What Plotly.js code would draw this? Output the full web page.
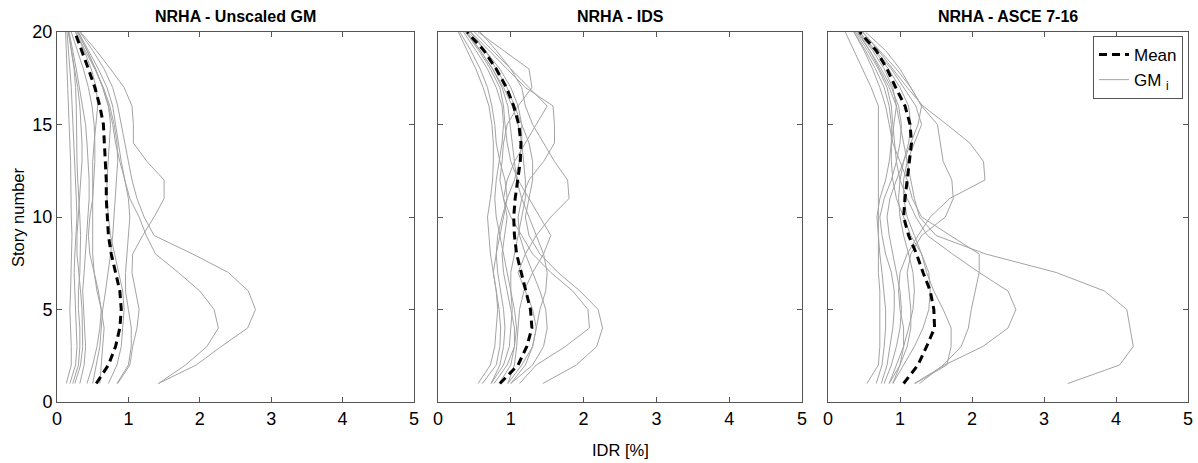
<!DOCTYPE html>
<html>
<head>
<meta charset="utf-8">
<script src="https://cdn.plot.ly/plotly-3.0.1.min.js"></script>
<style>html,body{margin:0;padding:0;background:#fff;}#chart{width:1198px;height:463px;}</style>
</head>
<body>
<div id="chart"></div>
<script>
const stories = [1,2,3,4,5,6,7,8,9,10,11,12,13,14,15,16,17,18,19,20];
const panelTitles = ["NRHA - Unscaled GM", "NRHA - IDS", "NRHA - ASCE 7-16"];
const xTicks = [0,1,2,3,4,5];
const yTicks = [0,5,10,15,20];

const meanUnscaled = [0.55,0.72,0.82,0.88,0.9,0.88,0.82,0.76,0.72,0.7,0.69,0.69,0.68,0.67,0.65,0.6,0.53,0.44,0.35,0.25];
const gmUnscaled = [
  [0.13,0.2,0.2,0.19,0.18,0.19,0.2,0.21,0.21,0.2,0.2,0.2,0.19,0.18,0.17,0.16,0.15,0.14,0.13,0.12],
  [0.18,0.26,0.28,0.27,0.25,0.24,0.24,0.25,0.27,0.28,0.27,0.26,0.25,0.24,0.23,0.22,0.2,0.18,0.16,0.14],
  [0.25,0.33,0.36,0.36,0.35,0.33,0.3,0.28,0.28,0.3,0.32,0.34,0.35,0.35,0.34,0.32,0.29,0.25,0.2,0.16],
  [0.32,0.38,0.4,0.39,0.37,0.36,0.38,0.4,0.42,0.44,0.45,0.45,0.44,0.42,0.4,0.36,0.32,0.27,0.22,0.17],
  [0.42,0.5,0.56,0.6,0.62,0.58,0.52,0.46,0.44,0.46,0.5,0.52,0.53,0.53,0.52,0.49,0.44,0.37,0.29,0.2],
  [0.6,0.62,0.64,0.66,0.62,0.56,0.52,0.5,0.5,0.5,0.5,0.5,0.5,0.52,0.55,0.57,0.55,0.48,0.38,0.26],
  [0.72,0.84,0.9,0.92,0.94,0.92,0.86,0.8,0.75,0.72,0.7,0.7,0.72,0.74,0.75,0.72,0.64,0.54,0.42,0.28],
  [0.84,1.0,1.04,1.04,1.0,0.96,0.96,0.98,1.0,1.02,1.0,0.95,0.88,0.82,0.78,0.72,0.64,0.54,0.42,0.3],
  [0.85,1.02,1.06,1.12,1.15,1.1,1.05,1.06,1.2,1.36,1.5,1.5,1.26,1.07,1.07,1.05,0.94,0.75,0.55,0.33],
  [1.42,1.95,2.3,2.67,2.78,2.68,2.4,1.9,1.36,1.22,1.12,1.05,1.0,0.95,0.9,0.85,0.78,0.66,0.5,0.32],
  [1.42,1.8,2.1,2.26,2.2,2.0,1.7,1.38,1.25,1.15,1.02,0.95,0.9,0.86,0.82,0.78,0.7,0.58,0.44,0.3],
  [0.5,0.55,0.6,0.62,0.64,0.68,0.72,0.75,0.78,0.8,0.82,0.84,0.85,0.84,0.8,0.74,0.65,0.53,0.4,0.26],
  [0.22,0.3,0.32,0.32,0.3,0.3,0.32,0.33,0.33,0.32,0.3,0.29,0.28,0.28,0.28,0.27,0.26,0.24,0.2,0.16]
];

const meanIDS = [0.85,1.1,1.22,1.29,1.27,1.21,1.14,1.08,1.05,1.04,1.06,1.1,1.13,1.14,1.11,1.04,0.94,0.8,0.63,0.4];
const gmIDS = [
  [1.44,1.9,2.18,2.26,2.2,1.95,1.65,1.4,1.25,1.2,1.25,1.3,1.3,1.25,1.15,1.05,0.95,0.8,0.65,0.45],
  [1.12,1.35,1.75,2.08,2.06,1.85,1.55,1.3,1.15,1.0,0.9,0.95,1.05,1.2,1.35,1.5,1.25,1.0,0.75,0.5],
  [0.96,1.15,1.3,1.35,1.3,1.2,1.1,1.2,1.35,1.55,1.8,1.78,1.6,1.45,1.3,1.2,1.15,1.0,0.8,0.58],
  [1.0,1.3,1.45,1.5,1.48,1.4,1.3,1.2,1.12,1.1,1.15,1.25,1.45,1.6,1.6,1.58,1.2,0.95,0.7,0.45],
  [0.84,1.0,1.05,1.05,1.0,0.95,0.9,0.88,0.92,0.95,0.9,0.85,0.88,0.9,0.95,1.1,1.29,1.25,0.9,0.55],
  [0.55,0.72,0.78,0.8,0.82,0.8,0.76,0.72,0.7,0.68,0.72,0.75,0.76,0.76,0.74,0.7,0.62,0.52,0.4,0.28],
  [0.61,0.8,0.85,0.86,0.84,0.8,0.76,0.8,0.85,0.9,0.95,0.92,0.85,0.8,0.78,0.74,0.68,0.58,0.45,0.3],
  [0.73,0.9,0.98,1.0,1.02,1.0,0.95,0.9,0.85,0.8,0.78,0.8,0.84,0.88,0.9,0.88,0.8,0.68,0.52,0.35],
  [0.77,0.95,1.05,1.08,1.05,1.0,1.0,1.05,1.1,1.15,1.2,1.2,1.18,1.15,1.1,1.02,0.9,0.75,0.58,0.38],
  [1.0,1.2,1.3,1.35,1.4,1.48,1.5,1.45,1.35,1.25,1.15,1.08,1.05,1.02,1.0,0.96,0.88,0.75,0.58,0.4],
  [0.96,1.05,1.08,1.1,1.12,1.18,1.3,1.45,1.55,1.4,1.25,1.1,1.0,0.95,0.92,0.9,0.85,0.72,0.56,0.38],
  [0.73,0.85,0.9,0.92,0.9,0.86,0.82,0.8,0.82,0.88,0.95,1.05,1.12,1.15,1.15,1.1,1.0,0.85,0.65,0.42]
];

const meanASCE = [1.05,1.25,1.37,1.48,1.47,1.42,1.32,1.23,1.12,1.05,1.07,1.1,1.14,1.16,1.14,1.07,0.94,0.82,0.67,0.44];
const gmASCE = [
  [3.33,4.05,4.24,4.19,4.15,3.84,3.17,2.19,1.5,1.27,1.2,1.15,1.1,1.05,1.0,0.95,0.85,0.72,0.58,0.42],
  [1.2,1.62,2.15,2.5,2.61,2.5,2.1,1.73,1.38,1.22,1.1,1.0,0.95,0.92,0.9,0.88,0.82,0.7,0.55,0.38],
  [1.27,1.6,1.85,1.95,1.99,2.05,2.1,2.1,1.7,1.3,1.17,1.1,1.0,0.9,0.85,0.8,0.72,0.62,0.5,0.36],
  [0.9,1.0,1.05,1.05,1.0,0.98,1.0,1.1,1.25,1.42,1.69,2.18,2.16,1.97,1.65,1.32,1.1,0.9,0.7,0.48],
  [0.85,1.0,1.1,1.15,1.15,1.12,1.1,1.15,1.3,1.63,1.74,1.72,1.6,1.56,1.52,1.3,1.15,1.0,0.8,0.52],
  [1.21,1.65,1.71,1.71,1.6,1.47,1.37,1.3,1.2,1.1,1.05,1.05,1.1,1.2,1.3,1.22,1.05,0.88,0.66,0.44],
  [0.54,0.7,0.72,0.72,0.72,0.72,0.7,0.7,0.7,0.7,0.7,0.7,0.7,0.7,0.7,0.7,0.6,0.48,0.36,0.24],
  [0.67,0.75,0.78,0.8,0.8,0.78,0.75,0.72,0.7,0.68,0.72,0.8,0.85,0.88,0.88,0.85,0.78,0.66,0.52,0.36],
  [0.74,0.82,0.86,0.9,0.92,0.92,0.88,0.8,0.75,0.72,0.78,0.88,0.95,1.0,1.02,0.98,0.88,0.74,0.58,0.4],
  [0.78,0.88,0.95,1.0,1.02,1.0,0.95,0.9,0.85,0.82,0.86,0.95,1.05,1.12,1.15,1.12,1.0,0.84,0.64,0.44],
  [0.85,0.95,1.05,1.12,1.18,1.2,1.18,1.12,1.05,1.0,0.98,1.0,1.05,1.15,1.25,1.3,1.15,0.95,0.72,0.48],
  [0.9,1.05,1.2,1.32,1.4,1.42,1.4,1.3,1.15,1.05,0.95,0.9,0.88,0.88,0.92,0.95,0.9,0.78,0.62,0.42]
];

const panels = [
  {gm: gmUnscaled, mean: meanUnscaled},
  {gm: gmIDS, mean: meanIDS},
  {gm: gmASCE, mean: meanASCE}
];

const W = 1198, H = 463;
const xDomPx = [[57,414],[438,802],[828,1188]];
const yDomPx = [32,402];
const FONT = "Liberation Sans, Arial, sans-serif";

const traces = [];
panels.forEach((p, i) => {
  const xa = i === 0 ? 'x' : 'x' + (i + 1);
  const ya = i === 0 ? 'y' : 'y' + (i + 1);
  p.gm.forEach((vals, k) => {
    traces.push({
      x: vals, y: stories, xaxis: xa, yaxis: ya, type: 'scatter', mode: 'lines',
      line: {color: '#a3a3a3', width: 1},
      name: 'GM <sub>i</sub>', legendrank: 2,
      showlegend: (i === 2 && k === 0), hoverinfo: 'skip'
    });
  });
  traces.push({
    x: p.mean, y: stories, xaxis: xa, yaxis: ya, type: 'scatter', mode: 'lines',
    line: {color: '#000000', width: 3, dash: '8px,5px'},
    name: 'Mean', legendrank: 1, showlegend: i === 2
  });
});

const layout = {
  width: W, height: H,
  margin: {l: 0, r: 0, t: 0, b: 0},
  paper_bgcolor: '#ffffff', plot_bgcolor: '#ffffff',
  font: {family: FONT, color: '#000'},
  showlegend: true,
  legend: {
    x: 1183 / W, xanchor: 'right', y: 1 - 36 / H, yanchor: 'top',
    bgcolor: '#ffffff', bordercolor: '#555', borderwidth: 1,
    font: {size: 17, family: FONT, color: '#000'},
    tracegroupgap: 0, itemwidth: 30, traceorder: 'normal'
  },
  annotations: []
};

xDomPx.forEach((d, i) => {
  const sfx = i === 0 ? '' : String(i + 1);
  layout['xaxis' + sfx] = {
    domain: [d[0] / W, d[1] / W], range: [0, 5], anchor: 'y' + sfx,
    tickvals: xTicks, ticktext: xTicks.map(String),
    ticks: 'inside', ticklen: 5, tickcolor: '#555', tickwidth: 1,
    showline: true, linecolor: '#555', linewidth: 1, mirror: 'ticks',
    showgrid: false, zeroline: false, fixedrange: true,
    tickfont: {size: 18, family: FONT, color: '#000'}
  };
  layout['yaxis' + sfx] = {
    domain: [1 - yDomPx[1] / H, 1 - yDomPx[0] / H], range: [0, 20], anchor: 'x' + sfx,
    tickvals: yTicks, ticktext: yTicks.map(String), showticklabels: i === 0,
    ticks: 'inside', ticklen: 5, tickcolor: '#555', tickwidth: 1,
    showline: true, linecolor: '#555', linewidth: 1, mirror: 'ticks',
    showgrid: false, zeroline: false, fixedrange: true,
    tickfont: {size: 18, family: FONT, color: '#000'}
  };
  layout.annotations.push({
    text: '<b>' + panelTitles[i] + '</b>', xref: 'paper', yref: 'paper',
    x: (d[0] + d[1]) / 2 / W, y: 1 - 17 / H, xanchor: 'center', yanchor: 'middle',
    showarrow: false, font: {size: 16, family: FONT, color: '#000'}
  });
});

layout.annotations.push({
  text: 'Story number', xref: 'paper', yref: 'paper', textangle: -90,
  x: 18 / W, y: 1 - 217 / H, xanchor: 'center', yanchor: 'middle',
  showarrow: false, font: {size: 16.5, family: FONT, color: '#000'}
});
layout.annotations.push({
  text: 'IDR [%]', xref: 'paper', yref: 'paper',
  x: 620 / W, y: 1 - 450 / H, xanchor: 'center', yanchor: 'middle',
  showarrow: false, font: {size: 16.5, family: FONT, color: '#000'}
});

Plotly.newPlot('chart', traces, layout, {displayModeBar: false, staticPlot: true});
</script>
</body>
</html>
